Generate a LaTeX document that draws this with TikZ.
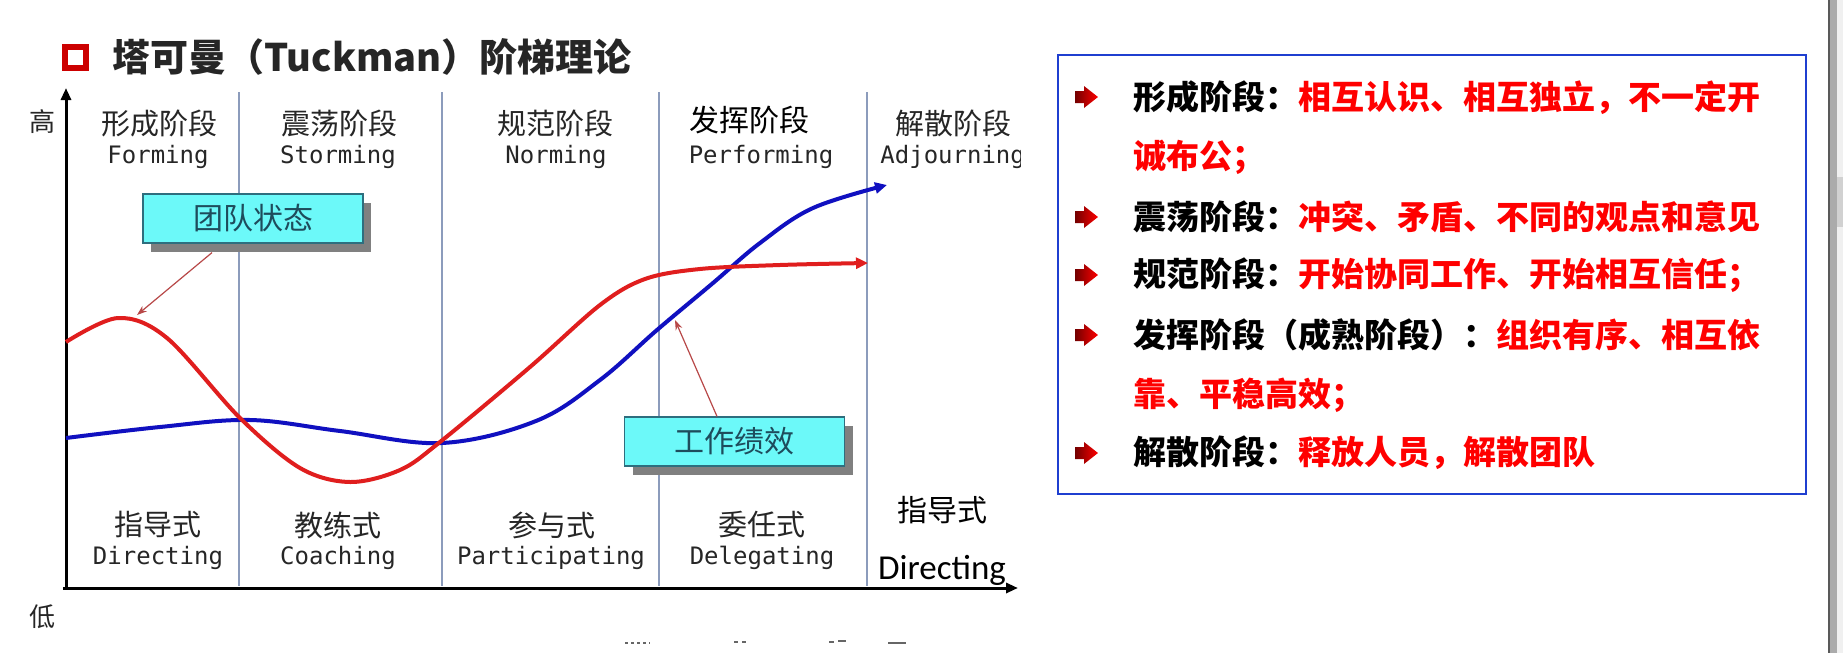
\documentclass[tikz,border=0pt]{standalone}
\usepackage{fontspec}
\setmainfont{Noto Sans CJK SC}
\newfontfamily\cjk{Noto Sans CJK SC}
\newfontfamily\monofam{DejaVu Sans Mono}
\newfontfamily\carl{Carlito}
\usetikzlibrary{arrows.meta,shadows}
\definecolor{cred}{HTML}{E01E1E}
\definecolor{cblue}{HTML}{1010C0}
\definecolor{vline}{HTML}{8C9CBC}
\definecolor{callfill}{HTML}{6CF9F9}
\definecolor{calldraw}{HTML}{2E6E7E}
\definecolor{calltext}{HTML}{1E4C5C}
\definecolor{ptr}{HTML}{B84848}
\definecolor{panelblue}{HTML}{1F3FD0}
\definecolor{txtred}{HTML}{FF0000}
\definecolor{labgray}{HTML}{262626}
\tikzset{
  stagecn/.style={font=\cjk\fontsize{14.5pt}{16pt}\selectfont, text=labgray, inner sep=0pt},
  stageen/.style={font=\monofam\fontsize{12pt}{14pt}\selectfont, text=labgray, inner sep=0pt},
  calloutbox/.style={draw=calldraw, line width=0.6pt, fill=callfill, minimum width=110pt, minimum height=24.5pt, inner sep=0pt, font=\cjk\fontsize{15pt}{17pt}\selectfont, text=calltext, drop shadow={shadow xshift=4pt, shadow yshift=-4.5pt, fill=black!50, opacity=1}},
  ptrline/.style={draw=ptr, line width=0.6pt, -{Stealth[length=5pt,width=3.5pt]}},
  axisline/.style={line width=1.5pt, black, -{Triangle[length=6pt,width=5pt]}},
  stageline/.style={draw=vline, line width=0.8pt},
  teamcurve/.style={cred, line width=2pt, -{Triangle[length=6pt,width=5.5pt]}},
  perfcurve/.style={cblue, line width=2pt, -{Triangle[length=6pt,width=5.5pt]}},
  paneltext/.style={font=\cjk\bfseries\fontsize{16.5pt}{18pt}\selectfont, anchor=west, inner sep=0pt},
  bulletarrow/.style={left color=black!55!red, right color=red, draw=none},
  axislab/.style={font=\cjk\fontsize{13pt}{15pt}\selectfont, text=labgray, inner sep=0pt},
}
\begin{document}
\begin{tikzpicture}[x=0.5pt,y=-0.5pt]
\fill[white] (0,0) rectangle (1843,653);
\useasboundingbox (0,0) rectangle (1843,653);

% title
\draw[draw=red!80!black, line width=3pt] (65,47) rectangle (86,68);
\node[anchor=west, font=\cjk\bfseries\fontsize{19pt}{21pt}\selectfont, text=black!85, inner sep=0pt] (title) at (112,57) {塔可曼（Tuckman）阶梯理论};

% stage separators
\foreach \x in {239,442,659,867} \draw[stageline] (\x,92) -- (\x,586);

% axes
\coordinate (origin) at (66,588);
\coordinate (ytop) at (66,88);
\coordinate (xstart) at (63,588);
\coordinate (xend) at (1018,588);
\draw[axisline] (origin) -- (ytop);
\draw[axisline] (xstart) -- (xend);
\node[axislab] (hi) at (42,122) {高};
\node[axislab] (lo) at (43,617) {低};

% top stage labels
\node[stagecn] (s1) at (159,123) {形成阶段};
\node[stageen] (e1) at (158,157) {Forming};
\node[stagecn] (s2) at (339,123) {震荡阶段};
\node[stageen] (e2) at (338,157) {Storming};
\node[stagecn] (s3) at (555,123) {规范阶段};
\node[stageen] (e3) at (556,157) {Norming};
\node[font=\cjk\fontsize{15pt}{17pt}\selectfont, text=black, inner sep=0pt] (s4) at (749,120) {发挥阶段};
\node[stageen] (e4) at (761,157) {Performing};
\node[stagecn] (s5) at (953,123) {解散阶段};
\begin{scope}
\clip (870,135) rectangle (1020,180);
\node[stageen, anchor=west] (e5) at (880,157) {Adjourning};
\end{scope}

% bottom labels
\node[stagecn] (b1) at (158,525) {指导式};
\node[stageen] (f1) at (158,558) {Directing};
\node[stagecn] (b2) at (338,525) {教练式};
\node[stageen] (f2) at (338,558) {Coaching};
\node[stagecn] (b3) at (552,525) {参与式};
\node[stageen] (f3) at (551,558) {Participating};
\node[stagecn] (b4) at (762,525) {委任式};
\node[stageen] (f4) at (762,558) {Delegating};
\node[font=\cjk\fontsize{15pt}{17pt}\selectfont, text=black, inner sep=0pt] (b5) at (942,510) {指导式};
\node[font=\carl\fontsize{17.5pt}{19pt}\selectfont, text=black, inner sep=0pt] (f5) at (942,570) {Directing};

% curves
\draw[perfcurve] plot[smooth, tension=0.6] coordinates {(66,438) (160,427) (250,420) (340,431) (442,443) (536,421) (600,380) (657,330) (713,283) (760,243) (813,208) (887,185)};
\draw[teamcurve] plot[smooth, tension=0.55] coordinates {(66,342) (118,318) (167,338) (240,418) (300,468) (350,482) (400,470) (440,442) (530,367) (600,305) (645,279) (700,269) (780,265) (868,263)};

% callouts
\node[calloutbox] (team) at (253,218.5) {团队状态};
\node[calloutbox] (perf) at (734.5,441.5) {工作绩效};
\coordinate (teamtip) at (137,315);
\coordinate (perftip) at (675,320);
\draw[ptrline] ([xshift=-20.5pt,yshift=-4.5pt]team.south) -- (teamtip);
\draw[ptrline] ([xshift=-8.75pt]perf.north) -- (perftip);

% faint fragments at bottom
\draw[black!60, line width=0.7pt, dash pattern=on 1.5pt off 1.5pt] (625,643) -- (650,643);
\draw[black!60, line width=0.9pt] (734,642) -- (738,642) (742,642) -- (746,642);
\draw[black!60, line width=0.9pt] (829,642) -- (834,642) (838,641) -- (846,641);
\draw[black!60, line width=0.9pt] (888,643) -- (906,643);

% right panel
\node[draw=panelblue, line width=1.2pt, minimum width=374pt, minimum height=219.5pt, inner sep=0pt] (panel) at (1432,274.5) {};
\foreach \c in {97,217,275,335,453}
  \shade[bulletarrow] (1075,\c-6) -- (1084,\c-6) -- (1084,\c-11) -- (1098,\c) -- (1084,\c+11) -- (1084,\c+6) -- (1075,\c+6) -- cycle;
\node[paneltext] (l1) at (1133,98) {形成阶段：\textcolor{txtred}{相互认识、相互独立，不一定开}};
\node[paneltext, text=txtred] (l2) at (1133,157) {诚布公；};
\node[paneltext] (l3) at (1133,217) {震荡阶段：\textcolor{txtred}{冲突、矛盾、不同的观点和意见}};
\node[paneltext] (l4) at (1133,275) {规范阶段：\textcolor{txtred}{开始协同工作、开始相互信任；}};
\node[paneltext] (l5) at (1133,335) {发挥阶段（成熟阶段）：\textcolor{txtred}{组织有序、相互依}};
\node[paneltext, text=txtred] (l6) at (1133,395) {靠、平稳高效；};
\node[paneltext] (l7) at (1133,453) {解散阶段：\textcolor{txtred}{释放人员，解散团队}};

% scrollbar strip
\fill[black!65] (1828,0) rectangle (1829.5,653);
\fill[black!33] (1829.5,0) rectangle (1837,653);
\fill[black!6] (1837,0) rectangle (1843,653);
\fill[black!18] (1837,177) rectangle (1843,227);
\end{tikzpicture}
\end{document}
